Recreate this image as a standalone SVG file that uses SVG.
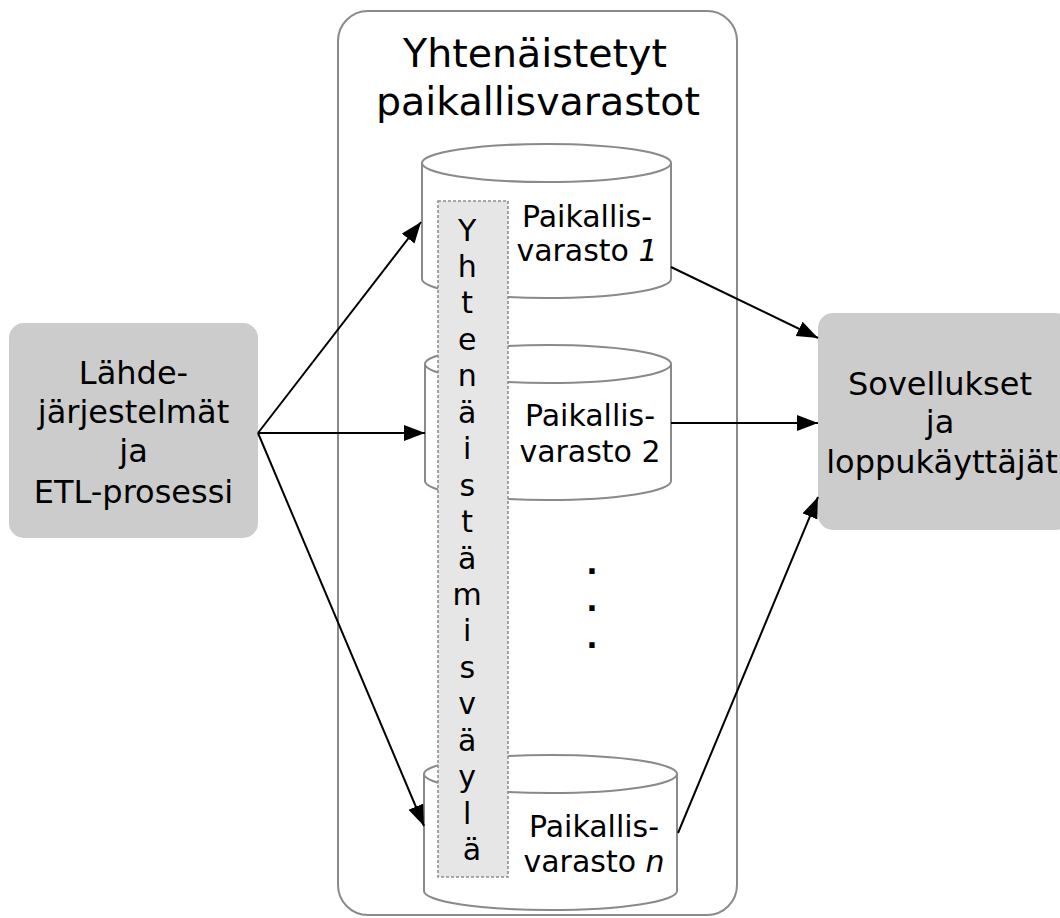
<svg xmlns="http://www.w3.org/2000/svg" width="1060" height="918" viewBox="0 0 1060 918">
  <style>
    .t { font-family: "DejaVu Sans", Verdana, sans-serif; fill: #000; text-anchor: middle; }
    .title { font-size: 39.5px; }
    .box { fill: #cccccc; stroke: none; }
    .boxtxt { font-size: 32px; }
    .cyl { fill: #ffffff; stroke: #8a8a8a; stroke-width: 2; }
    .cyltxt { font-size: 30px; }
    .bus { fill: #e6e6e6; stroke: #8f8f8f; stroke-width: 1.6; stroke-dasharray: 3 2; }
    .bustxt { font-size: 30px; }
    .dot { font-size: 30px; font-weight: bold; }
    .edge { stroke: #000; stroke-width: 2; fill: none; marker-end: url(#arrow); }
  </style>
  <defs>
    <marker id="arrow" markerUnits="userSpaceOnUse" markerWidth="24" markerHeight="18" refX="21" refY="8" orient="auto">
      <path d="M0,0 L21,8 L0,16 z" fill="#000"/>
    </marker>
  </defs>

  <rect width="1060" height="918" fill="#ffffff"/>

  <!-- Container of the federated local stores -->
  <g id="container">
    <rect x="338" y="11" width="399" height="904" rx="30" ry="30" fill="#ffffff" stroke="#8a8a8a" stroke-width="2"/>
    <text class="t title" x="535" y="67">Yhtenäistetyt</text>
    <text class="t title" x="538" y="115">paikallisvarastot</text>
  </g>

  <!-- Local store 1 -->
  <g id="store1">
    <path class="cyl" d="M422,163 L422,279 A124.5,19 0 0 0 671,279 L671,163"/>
    <ellipse class="cyl" cx="546.5" cy="163" rx="124.5" ry="19"/>
    <text class="t cyltxt" x="587" y="227">Paikallis-</text>
    <text class="t cyltxt" x="587" y="261">varasto <tspan font-style="italic">1</tspan></text>
  </g>

  <!-- Local store 2 -->
  <g id="store2">
    <path class="cyl" d="M425,364 L425,481 A123,19 0 0 0 671,481 L671,364"/>
    <ellipse class="cyl" cx="548" cy="364" rx="123" ry="19"/>
    <text class="t cyltxt" x="590" y="426">Paikallis-</text>
    <text class="t cyltxt" x="590" y="462">varasto 2</text>
  </g>

  <!-- Local store n -->
  <g id="storeN">
    <path class="cyl" d="M424,774 L424,891 A126.5,19 0 0 0 677,891 L677,774"/>
    <ellipse class="cyl" cx="550.5" cy="774" rx="126.5" ry="19"/>
    <text class="t cyltxt" x="594" y="837">Paikallis-</text>
    <text class="t cyltxt" x="594" y="872">varasto <tspan font-style="italic">n</tspan></text>
  </g>

  <!-- Vertical ellipsis between store 2 and store n -->
  <g id="ellipsis">
    <text class="t dot" x="592" y="574">.</text>
    <text class="t dot" x="592" y="611">.</text>
    <text class="t dot" x="592" y="648">.</text>
  </g>

  <!-- Integration bus, vertical lettering -->
  <g id="bus">
    <rect class="bus" x="438" y="201" width="70" height="676"/>
    <text class="t bustxt">
      <tspan x="472" y="240.5">Y</tspan>
      <tspan x="472" y="277">h</tspan>
      <tspan x="472" y="313.4">t</tspan>
      <tspan x="472" y="349.8">e</tspan>
      <tspan x="472" y="386.3">n</tspan>
      <tspan x="472" y="422.7">ä</tspan>
      <tspan x="472" y="459.2">i</tspan>
      <tspan x="472" y="495.6">s</tspan>
      <tspan x="472" y="532">t</tspan>
      <tspan x="472" y="568.5">ä</tspan>
      <tspan x="472" y="604.9">m</tspan>
      <tspan x="472" y="641.4">i</tspan>
      <tspan x="472" y="677.8">s</tspan>
      <tspan x="472" y="714.2">v</tspan>
      <tspan x="472" y="750.7">ä</tspan>
      <tspan x="472" y="787.1">y</tspan>
      <tspan x="472" y="823.6">l</tspan>
      <tspan x="472" y="860">ä</tspan>
    </text>
  </g>

  <!-- Source systems and ETL -->
  <g id="sources">
    <rect class="box" x="9" y="323" width="249" height="215" rx="15" ry="15"/>
    <text class="t boxtxt" x="133.5" y="384">Lähde-</text>
    <text class="t boxtxt" x="133.5" y="423">järjestelmät</text>
    <text class="t boxtxt" x="133.5" y="462">ja</text>
    <text class="t boxtxt" x="133.5" y="503">ETL-prosessi</text>
  </g>

  <!-- Applications and end users -->
  <g id="applications">
    <rect class="box" x="818" y="313" width="252" height="217" rx="15" ry="15"/>
    <text class="t boxtxt" x="940" y="395">Sovellukset</text>
    <text class="t boxtxt" x="940" y="433">ja</text>
    <text class="t boxtxt" x="942" y="473">loppukäyttäjät</text>
  </g>

  <!-- Connectors -->
  <g id="connectors">
    <line class="edge" x1="258" y1="433" x2="421" y2="222"/>
    <line class="edge" x1="258" y1="433" x2="425" y2="433"/>
    <line class="edge" x1="258" y1="433" x2="424" y2="826"/>
    <line class="edge" x1="671" y1="267" x2="818" y2="338"/>
    <line class="edge" x1="671" y1="423" x2="818" y2="423"/>
    <line class="edge" x1="678" y1="833" x2="818" y2="497"/>
  </g>
</svg>
